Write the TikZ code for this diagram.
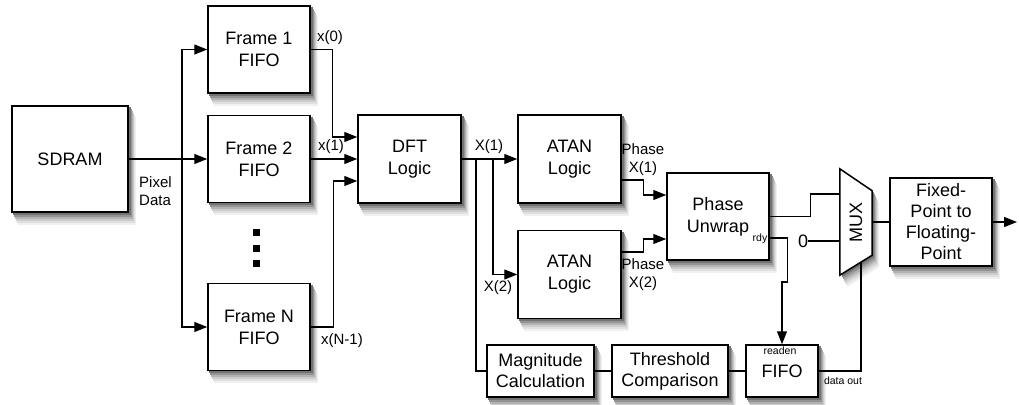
\documentclass[tikz,border=0pt]{standalone}
\usepackage{fontspec}
\setmainfont{Liberation Sans}
\usetikzlibrary{arrows.meta, positioning, calc, backgrounds}

\tikzset{
  blk/.style={draw, line width=1.5pt, fill=white, align=center, inner sep=0pt,
    font=\fontsize{18}{22}\selectfont},
  conn/.style={line width=1.3pt, -{Triangle[length=13pt,width=10pt]}},
  wire/.style={line width=1.3pt},
  lbl/.style={font=\fontsize{15}{18}\selectfont, inner sep=0pt},
  tinylbl/.style={font=\fontsize{10.5}{12}\selectfont, inner sep=0pt}
}

\begin{document}
\begin{tikzpicture}[x=1pt, y=-1pt]
\useasboundingbox (0,0) rectangle (1019,404);

% memory and frame buffers
\node[blk, minimum width=116pt, minimum height=106pt] (sdram) at (70,159) {SDRAM};
\node[blk, minimum width=102pt, minimum height=87pt] (f1) at (259,49.5) {Frame 1\\FIFO};
\node[blk, minimum width=102pt, minimum height=87pt] (f2) at (259,159) {Frame 2\\FIFO};
\node[blk, minimum width=102pt, minimum height=87pt] (fN) at (259,327) {Frame N\\FIFO};
\foreach \y in {232,248,263}
  \fill (252.5,\y-3.5) rectangle (259.5,\y+3.5);

% processing chain
\node[blk, minimum width=103pt, minimum height=88pt] (dft) at (409.5,159) {DFT\\Logic};
\node[blk, minimum width=103pt, minimum height=88pt] (atan1) at (569.5,159) {ATAN\\Logic};
\node[blk, minimum width=103pt, minimum height=88pt] (atan2) at (569.5,274.5) {ATAN\\Logic};
\node[blk, minimum width=102pt, minimum height=87pt] (pu) at (718,216.5) {Phase\\Unwrap};
\node[blk, minimum width=102pt, minimum height=88pt, font=\fontsize{18}{21}\selectfont] (fp) at (941,222)
  {Fixed-\\Point to\\Floating-\\Point};

% mux
\node[minimum width=32pt, minimum height=106pt, inner sep=0pt] (mux) at (856,222) {};
\coordinate (m1) at (mux.north west);
\coordinate (m2) at ([yshift=-22pt]mux.north east);
\coordinate (m3) at ([yshift=20pt]mux.south east);
\coordinate (m4) at (mux.south west);
\draw[line width=1.5pt, fill=white] (m1) -- (m2) -- (m3) -- (m4) -- cycle;
\node[rotate=90, font=\fontsize{18}{22}\selectfont] (muxtxt) at (mux) {MUX};

% detection path
\node[blk, minimum width=107pt, minimum height=52pt, font=\fontsize{18}{21}\selectfont] (mag) at (540.5,371) {Magnitude\\Calculation};
\node[blk, minimum width=116pt, minimum height=52pt, font=\fontsize{18}{21}\selectfont] (thr) at (670,371) {Threshold\\Comparison};
\node[blk, minimum width=72pt, minimum height=52pt] (fifo) at (782,371) {FIFO};

% soft shadows
\begin{scope}[on background layer]
\foreach \dx/\dy/\c in {7/12/6, 6/10/12, 5/8/20, 4/6/30, 3/4/42, 2/2/55} {
  \foreach \n in {sdram,f1,f2,fN,dft,atan1,atan2,pu,fp,mag,thr,fifo}
    \fill[black!\c] ([shift={(\dx pt,-\dy pt)}]\n.north west)
      rectangle ([shift={(\dx pt,-\dy pt)}]\n.south east);
  \fill[black!\c] ([shift={(\dx pt,-\dy pt)}]m1) -- ([shift={(\dx pt,-\dy pt)}]m2)
    -- ([shift={(\dx pt,-\dy pt)}]m3) -- ([shift={(\dx pt,-\dy pt)}]m4) -- cycle;
}
\end{scope}

% pixel bus
\coordinate (bus) at (182,159);
\draw[conn] (sdram) -- (f2);
\draw[conn] (bus) |- (f1);
\draw[conn] (bus) |- (fN);
\node[lbl, align=left, anchor=west] (pix) at (139,191) {Pixel\\Data};

% frames to DFT
\draw[conn] (f1.east) -- ++(22,0) |- ([yshift=22pt]dft.west);
\draw[conn] (f2) -- (dft);
\draw[conn] (fN.east) -- ++(23,0) |- ([yshift=-22pt]dft.west);
\node[lbl] (x0) at (330,38) {x(0)};
\node[lbl] (x1) at (331,147) {x(1)};
\node[lbl] (xN) at (342,341) {x(N-1)};

% DFT outputs
\coordinate (tap1) at (476,159);
\coordinate (tap2) at (493,159);
\draw[conn] (dft) -- (atan1);
\draw[conn] (tap2) |- (atan2);
\draw[wire] (tap1) |- (mag);
\node[lbl] (X1) at (489,147) {X(1)};
\node[lbl] (X2) at (498,288) {X(2)};

% phases
\draw[conn] ([yshift=-21pt]atan1.east) -- ++(22,0) |- ([yshift=21.5pt]pu.west);
\draw[conn] ([yshift=22.5pt]atan2.east) -- ++(22,0) |- ([yshift=-22.5pt]pu.west);
\node[lbl, align=center] (ph1) at (643,160) {Phase\\X(1)};
\node[lbl, align=center] (ph2) at (643,275) {Phase\\X(2)};

% mux inputs and output
\draw[wire] (pu.east) -- ++(41,0) |- ([yshift=28pt]mux.west);
\node[font=\fontsize{18}{22}\selectfont, inner sep=0pt] (zero) at (803,241) {0};
\draw[wire] (zero.east) -- ([yshift=-19pt]mux.west);
\draw[wire] (mux.east) -- (fp);
\coordinate (out) at (1017,222);
\draw[conn] (fp) -- (out);

% ready and select
\node[tinylbl] (rdy) at (760,239) {rdy};
\draw[conn] ([yshift=-21.5pt]pu.east) -- ++(18,0) -- ++(0,44) -| (fifo.north);
\node[tinylbl] (rden) at (780,351) {readen};
\draw[wire] (mag) -- (thr);
\draw[wire] (thr) -- (fifo);
\coordinate (sel) at (861,262);
\draw[wire] (fifo.east) -| (sel);
\node[tinylbl] (dout) at (843,381) {data out};
\end{tikzpicture}
\end{document}
